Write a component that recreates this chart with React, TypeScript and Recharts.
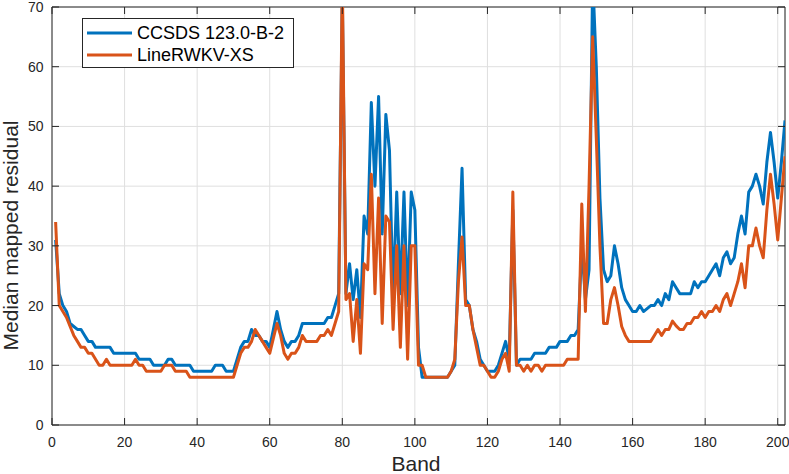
import React from 'react';
import { LineChart, Line, XAxis, YAxis, CartesianGrid, Legend, ReferenceLine } from 'recharts';

const WIDTH = 789;
const HEIGHT = 474;
const MARGIN = { top: 7, right: 4, bottom: 0, left: 0 };
const Y_AXIS_WIDTH = 52;
const X_AXIS_HEIGHT = 49;
const PLOT_TOP = MARGIN.top;
const PLOT_RIGHT = WIDTH - MARGIN.right;
const TICK_LEN = 7;
const AXIS_COLOR = '#262626';
const GRID_COLOR = '#dfdfdf';
const FONT = '"Liberation Sans", Arial, Helvetica, sans-serif';

const BLUE = '#0072BD';
const ORANGE = '#D95319';

const X_TICKS = [0, 20, 40, 60, 80, 100, 120, 140, 160, 180, 200];
const Y_TICKS = [0, 10, 20, 30, 40, 50, 60, 70];
const X_DOMAIN: [number, number] = [0, 202];
const Y_DOMAIN: [number, number] = [0, 70];

const X_LABEL = 'Band';
const Y_LABEL = 'Median mapped residual';
const NAME_CCSDS = 'CCSDS 123.0-B-2';
const NAME_RWKV = 'LineRWKV-XS';

// median mapped residual per band (bands 1..202)
const ccsds = [
  31, 22, 20, 19, 17, 16.5, 16, 16, 15, 14,
  14, 13, 13, 13, 13, 13, 12, 12, 12, 12,
  12, 12, 12, 11, 11, 11, 11, 10, 10, 10,
  10, 11, 11, 10, 10, 10, 10, 10, 9, 9,
  9, 9, 9, 9, 10, 10, 10, 9, 9, 9,
  11, 13, 14, 14, 16, 15, 15, 14, 14, 13,
  16, 19, 16, 14, 13, 14, 14, 15, 17, 17,
  17, 17, 17, 17, 17, 18, 18, 20, 22, 72,
  22, 27, 21, 26, 18, 35, 32, 54, 40, 55,
  32, 52, 46, 21, 39, 22, 39, 20, 39, 36,
  13, 8, 8, 8, 8, 8, 8, 8, 8, 9,
  10, 27, 43, 21, 20, 16, 14, 11, 10, 9,
  9, 9, 10, 12, 14, 11, 36, 10, 11, 11,
  11, 11, 12, 12, 12, 12, 13, 13, 13, 14,
  14, 14, 15, 15, 16, 30, 21, 26, 75, 60,
  38, 26, 24, 25, 30, 27, 23, 21, 20, 19,
  19, 20, 19, 19.5, 20, 20, 21, 20, 22, 21,
  24, 23, 22, 22, 22, 22, 24, 23, 24, 24,
  25, 26, 27, 25, 28, 29, 27, 28, 32, 35,
  32, 39, 40, 42, 40, 37, 44, 49, 44, 38,
  44, 51,
];

const lineRwkv = [
  34, 20, 19, 18, 16.5, 15, 14, 13, 13, 12,
  12, 11, 10, 10, 11, 10, 10, 10, 10, 10,
  10, 10, 11, 10, 10, 9, 9, 9, 9, 9,
  10, 10, 10, 9, 9, 9, 9, 8, 8, 8,
  8, 8, 8, 8, 8, 8, 8, 8, 8, 8,
  10, 12, 13, 13, 14, 16, 15, 14, 13, 12,
  14.5, 17, 15, 12, 11, 12, 12, 13, 15, 14,
  14, 14, 14, 15, 15, 16, 15, 17, 19, 75,
  21, 22, 14, 21, 12, 27, 26, 42, 22, 38,
  17, 35, 34, 16, 30, 13, 30, 11, 30, 30,
  10, 10, 8, 8, 8, 8, 8, 8, 8, 9,
  11, 24, 31.5, 20, 20, 16, 13, 10, 10, 9,
  8, 8, 9, 11, 12, 9, 39, 10, 10, 9,
  10, 9, 10, 10, 9, 10, 10, 10, 10, 10,
  10, 11, 11, 11, 11, 37, 19, 40, 65, 48,
  30, 17, 17, 21, 23, 20, 16.5, 15, 14, 14,
  14, 14, 14, 14, 14, 15, 16, 15, 16, 16,
  17.4, 16.6, 16, 16, 17, 17, 18, 18, 19, 18,
  19, 19, 20, 19, 21, 22, 20, 22, 24, 27,
  23, 30, 30, 33, 30, 28, 36, 42, 37, 31,
  38, 45,
];

const bands = ccsds.map((_, i) => i + 1);

const data = bands.map((band, i) => ({ band, ccsds: ccsds[i], rwkv: lineRwkv[i] }));

const SERIES = [
  { key: 'ccsds', name: NAME_CCSDS, color: BLUE },
  { key: 'rwkv', name: NAME_RWKV, color: ORANGE },
];

const XTick = (props: any) => {
  const { x, y, payload } = props;
  return (
    <g>
      <line x1={x} x2={x} y1={y} y2={y - TICK_LEN} stroke={AXIS_COLOR} strokeWidth={1} />
      <line x1={x} x2={x} y1={PLOT_TOP} y2={PLOT_TOP + TICK_LEN} stroke={AXIS_COLOR} strokeWidth={1} />
      <text x={x} y={y + 21.5} textAnchor="middle" fontSize={14} fill={AXIS_COLOR} fontFamily={FONT}>
        {payload.value}
      </text>
    </g>
  );
};

const YTick = (props: any) => {
  const { x, y, payload } = props;
  return (
    <g>
      <line x1={x} x2={x + TICK_LEN} y1={y} y2={y} stroke={AXIS_COLOR} strokeWidth={1} />
      <line x1={PLOT_RIGHT - TICK_LEN} x2={PLOT_RIGHT} y1={y} y2={y} stroke={AXIS_COLOR} strokeWidth={1} />
      <text x={x - 8.5} y={y + 5} textAnchor="end" fontSize={14} fill={AXIS_COLOR} fontFamily={FONT}>
        {payload.value}
      </text>
    </g>
  );
};

const renderXLabel = () => (
  <text x={416} y={471} textAnchor="middle" fontSize={21} fill={AXIS_COLOR} fontFamily={FONT}>
    {X_LABEL}
  </text>
);

const renderYLabel = () => (
  <text
    transform="translate(18,235.5) rotate(-90)"
    textAnchor="middle"
    fontSize={21}
    fill={AXIS_COLOR}
    fontFamily={FONT}
  >
    {Y_LABEL}
  </text>
);

const renderLegend = () => (
  <div
    style={{
      width: 212,
      height: 50,
      boxSizing: 'border-box',
      border: `1px solid ${AXIS_COLOR}`,
      background: '#fff',
      fontFamily: FONT,
      fontSize: 18,
      color: '#000',
      paddingTop: 3,
    }}
  >
    {SERIES.map((s) => (
      <div key={s.key} style={{ display: 'flex', alignItems: 'center', height: 22 }}>
        <svg width={50} height={22} style={{ display: 'block', flex: 'none' }}>
          <line x1={4} x2={49} y1={11} y2={11} stroke={s.color} strokeWidth={3} />
        </svg>
        <span style={{ marginLeft: 4, lineHeight: '22px', whiteSpace: 'nowrap' }}>{s.name}</span>
      </div>
    ))}
  </div>
);

export default function App() {
  return (
    <div style={{ position: 'fixed', left: 0, top: 0, width: WIDTH, height: HEIGHT, background: '#fff' }}>
      <LineChart width={WIDTH} height={HEIGHT} data={data} margin={MARGIN}>
        <CartesianGrid stroke={GRID_COLOR} strokeWidth={1} />
        <XAxis
          dataKey="band"
          type="number"
          domain={X_DOMAIN}
          ticks={X_TICKS}
          allowDataOverflow
          height={X_AXIS_HEIGHT}
          tickSize={0}
          tickMargin={0}
          tickLine={false}
          axisLine={{ stroke: AXIS_COLOR, strokeWidth: 1 }}
          tick={XTick}
          interval={0}
          label={renderXLabel}
        />
        <YAxis
          type="number"
          domain={Y_DOMAIN}
          ticks={Y_TICKS}
          allowDataOverflow
          width={Y_AXIS_WIDTH}
          tickSize={0}
          tickMargin={0}
          tickLine={false}
          axisLine={{ stroke: AXIS_COLOR, strokeWidth: 1 }}
          tick={YTick}
          interval={0}
          label={renderYLabel}
        />
        <ReferenceLine y={70} stroke={AXIS_COLOR} strokeWidth={1} />
        <ReferenceLine x={202} stroke={AXIS_COLOR} strokeWidth={1} />
        {SERIES.map((s) => (
          <Line
            key={s.key}
            type="linear"
            dataKey={s.key}
            name={s.name}
            stroke={s.color}
            strokeWidth={3}
            strokeLinejoin="round"
            dot={false}
            activeDot={false}
            isAnimationActive={false}
          />
        ))}
        <Legend
          layout="vertical"
          align="center"
          verticalAlign="middle"
          content={renderLegend}
          wrapperStyle={{ left: 82, top: 18, width: 212, height: 50 }}
        />
      </LineChart>
    </div>
  );
}
